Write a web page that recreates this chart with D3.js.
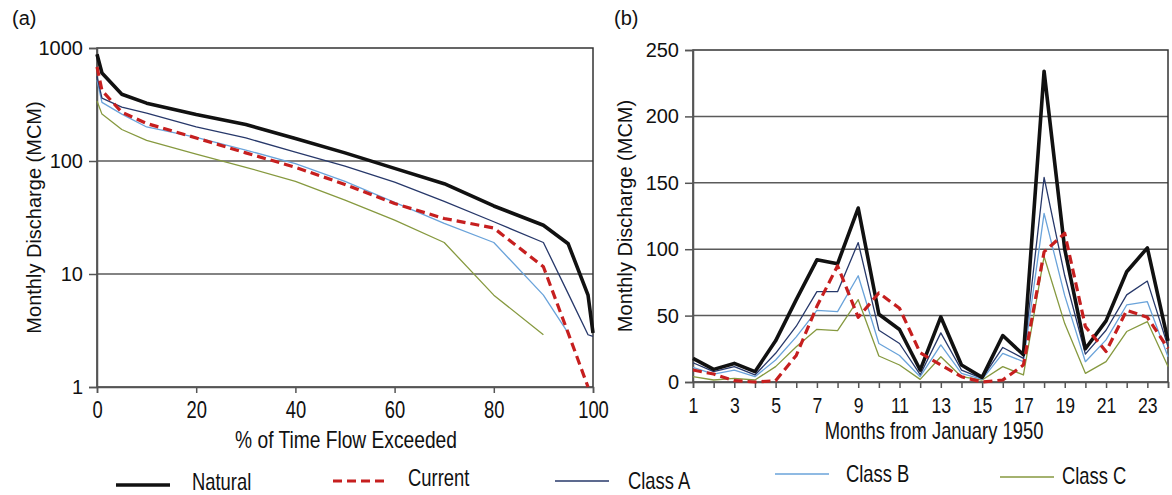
<!DOCTYPE html>
<html>
<head>
<meta charset="utf-8">
<script src="https://cdn.jsdelivr.net/npm/d3@7"></script>
<style>
  body { margin: 0; background: #fff; }
  text { font-family: "Liberation Sans", Arial, sans-serif; fill: #111; }
</style>
</head>
<body>
<div id="chart_div"></div>
<script>
  // panel (a): flow duration curves (% of time flow exceeded)
  var pctExceeded = [0, 1, 5, 10, 20, 30, 40, 50, 60, 70, 80, 90, 95, 99, 100];
  var fdcNatural = [880, 600, 390, 325, 258, 210, 158, 118, 86, 63, 40, 27, 18.5, 6.5, 3];
  var fdcCurrent = [680, 420, 270, 215, 160, 118, 88, 62, 42, 31, 25.5, 11.6, 3.0, 1.0, null];
  var fdcClassA = [560, 360, 300, 265, 200, 160, 120, 90, 65, 44, 29, 19, 6.7, 2.9, 2.8];
  var fdcClassB = [520, 330, 260, 200, 162, 125, 95, 66, 43, 28, 19, 6.5, 3.0, null, null];
  var fdcClassC = [340, 260, 190, 152, 115, 88, 66, 45, 30, 19, 6.5, 2.9, null, null, null];

  // panel (b): monthly series from January 1950
  var months = d3.range(1, 25);
  var monNatural = [17.8, 9.5, 14, 7.8, 31, 62, 92, 89, 131, 51, 39.5, 9, 49, 12.8, 3.5, 35, 20.5, 234, 100, 25, 46, 83, 101, 31];
  var monCurrent = [9, 6, 1, 0, 1, 20, 57, 87.5, 48.7, 67, 55.5, 22, 12.8, 4, 0, 1.5, 12.8, 98, 112, 41.7, 22.9, 54, 48.7, 25.4];
  var monClassA = [14.5, 7.8, 11.5, 5.3, 21.6, 42, 68, 68, 105, 39, 29, 5.5, 37, 9, 2.8, 26, 17.8, 154, 80, 21, 39, 65.6, 76, 26.6];
  var monClassB = [11, 6, 9, 4, 16.6, 34, 54, 53, 80, 29, 20, 4, 28, 6.5, 2, 21.6, 15.3, 127, 65, 15.3, 31.7, 58, 60.5, 19];
  var monClassC = [4, 1.5, 2.8, 1.5, 11.6, 26.6, 39.7, 38.7, 62, 19.6, 12.8, 2, 19, 4, 1.5, 11.6, 5.3, 94.5, 44, 6.5, 15.3, 38, 45.5, 11.6];

  var seriesNames = ["Natural", "Current", "Class A", "Class B", "Class C"];
  var yTicksA = [1, 10, 100, 1000];
  var xTicksA = [0, 20, 40, 60, 80, 100];
  var yTicksB = [0, 50, 100, 150, 200, 250];

  // line styles per series
  var styles = {
    "Natural": {color: "#111111", width: 3.6, dash: null},
    "Current": {color: "#c61f1f", width: 3.2, dash: "9,5"},
    "Class A": {color: "#27386a", width: 1.3, dash: null},
    "Class B": {color: "#6aa3da", width: 1.3, dash: null},
    "Class C": {color: "#86993f", width: 1.3, dash: null}
  };
  var drawOrder = ["Class C", "Class B", "Class A", "Natural", "Current"];

  // the horizontal texts in the original are condensed
  var squeeze = "scale(0.8,1)";

  var svg = d3.select("#chart_div")
    .append("svg")
      .attr("width", 1172)
      .attr("height", 495);

  var gridColor = "#5a5a5a";

  // ---------- panel (a) ----------
  var pa = {left: 97, right: 593, top: 48, bottom: 387};
  var xa = d3.scaleLinear().domain([0, 100]).range([pa.left, pa.right]);
  var ya = d3.scaleLog().domain([1, 1000]).range([pa.bottom, pa.top]);

  // gridlines
  svg.append("g")
    .selectAll("line")
    .data(yTicksA.slice(1, 3))
    .enter()
    .append("line")
      .attr("x1", pa.left).attr("x2", pa.right)
      .attr("y1", function(d) { return ya(d); })
      .attr("y2", function(d) { return ya(d); })
      .attr("stroke", gridColor)
      .attr("stroke-width", 1.5);

  // box
  svg.append("rect")
    .attr("x", pa.left).attr("y", pa.top)
    .attr("width", pa.right - pa.left).attr("height", pa.bottom - pa.top)
    .attr("fill", "none")
    .attr("stroke", "#333")
    .attr("stroke-width", 1.5);

  var axA_y = svg.append("g")
    .attr("transform", "translate(" + pa.left + ",0)")
    .call(d3.axisLeft(ya).tickValues(yTicksA).tickFormat(d3.format("d")).tickSize(8).tickPadding(6));
  axA_y.selectAll("text").style("font-size", "20px");

  var axA_x = svg.append("g")
    .attr("transform", "translate(0," + pa.bottom + ")")
    .call(d3.axisBottom(xa).tickValues(xTicksA).tickSize(6).tickPadding(9));
  axA_x.selectAll("text").attr("transform", squeeze).style("font-size", "23px");

  [axA_y, axA_x].forEach(function(a) {
    a.selectAll(".domain").attr("stroke", "#555").attr("stroke-width", 1.5);
    a.selectAll(".tick line").attr("stroke", "#555").attr("stroke-width", 1.5);
  });

  var fdc = {
    "Natural": fdcNatural, "Current": fdcCurrent,
    "Class A": fdcClassA, "Class B": fdcClassB, "Class C": fdcClassC
  };
  var lineA = d3.line()
    .defined(function(d) { return d.v != null; })
    .x(function(d) { return xa(d.x); })
    .y(function(d) { return ya(d.v); });

  drawOrder.forEach(function(name) {
    var pts = pctExceeded.map(function(p, i) { return {x: p, v: fdc[name][i]}; });
    var s = styles[name];
    svg.append("path")
      .datum(pts)
      .attr("d", lineA)
      .attr("fill", "none")
      .attr("stroke", s.color)
      .attr("stroke-width", s.width)
      .attr("stroke-dasharray", s.dash)
      .attr("stroke-linejoin", "round");
  });

  svg.append("text")
    .attr("x", 12).attr("y", 25)
    .style("font-size", "20px")
    .text("(a)");

  svg.append("text")
    .attr("text-anchor", "middle")
    .attr("transform", "translate(41," + ((pa.top + pa.bottom) / 2) + ") rotate(-90)")
    .style("font-size", "20px")
    .text("Monthly Discharge (MCM)");

  svg.append("text")
    .attr("text-anchor", "middle")
    .attr("transform", "translate(346,448) " + squeeze)
    .style("font-size", "24px")
    .text("% of Time Flow Exceeded");

  // ---------- panel (b) ----------
  var pb = {left: 693, right: 1168, top: 50, bottom: 382};
  var xb = d3.scaleLinear().domain([1, 24]).range([pb.left, pb.right]);
  var yb = d3.scaleLinear().domain([0, 250]).range([pb.bottom, pb.top]);

  svg.append("g")
    .selectAll("line")
    .data(yTicksB.slice(1, 5))
    .enter()
    .append("line")
      .attr("x1", pb.left).attr("x2", pb.right)
      .attr("y1", function(d) { return yb(d); })
      .attr("y2", function(d) { return yb(d); })
      .attr("stroke", gridColor)
      .attr("stroke-width", 1.5);

  svg.append("rect")
    .attr("x", pb.left).attr("y", pb.top)
    .attr("width", pb.right - pb.left).attr("height", pb.bottom - pb.top)
    .attr("fill", "none")
    .attr("stroke", "#333")
    .attr("stroke-width", 1.5);

  var axB_y = svg.append("g")
    .attr("transform", "translate(" + pb.left + ",0)")
    .call(d3.axisLeft(yb).tickValues(yTicksB).tickSize(8).tickPadding(6));
  axB_y.selectAll("text").style("font-size", "20px");

  var axB_x = svg.append("g")
    .attr("transform", "translate(0," + pb.bottom + ")")
    .call(d3.axisBottom(xb).tickValues(months).tickSize(6).tickPadding(9)
      .tickFormat(function(d) { return d % 2 === 1 ? d : ""; }));
  axB_x.selectAll("text").attr("transform", squeeze).style("font-size", "22px");

  [axB_y, axB_x].forEach(function(a) {
    a.selectAll(".domain").attr("stroke", "#555").attr("stroke-width", 1.5);
    a.selectAll(".tick line").attr("stroke", "#555").attr("stroke-width", 1.5);
  });

  var mon = {
    "Natural": monNatural, "Current": monCurrent,
    "Class A": monClassA, "Class B": monClassB, "Class C": monClassC
  };
  var lineB = d3.line()
    .x(function(d) { return xb(d.m); })
    .y(function(d) { return yb(d.v); });

  drawOrder.forEach(function(name) {
    var pts = months.map(function(m, i) { return {m: m, v: mon[name][i]}; });
    var s = styles[name];
    svg.append("path")
      .datum(pts)
      .attr("d", lineB)
      .attr("fill", "none")
      .attr("stroke", s.color)
      .attr("stroke-width", s.width)
      .attr("stroke-dasharray", s.dash)
      .attr("stroke-linejoin", "round");
  });

  svg.append("text")
    .attr("x", 614).attr("y", 25)
    .style("font-size", "20px")
    .text("(b)");

  svg.append("text")
    .attr("text-anchor", "middle")
    .attr("transform", "translate(632," + ((pb.top + pb.bottom) / 2) + ") rotate(-90)")
    .style("font-size", "20px")
    .text("Monthly Discharge (MCM)");

  svg.append("text")
    .attr("text-anchor", "middle")
    .attr("transform", "translate(934,439) " + squeeze)
    .style("font-size", "23px")
    .text("Months from January 1950");

  // ---------- legend ----------
  var legLineX = [116, 333, 555, 775, 1000];
  var legLineY = [485, 481, 481, 474, 477];
  var legTextX = [192, 408, 628, 846, 1062];
  var legTextY = [490, 486, 489, 482, 484];

  seriesNames.forEach(function(name, i) {
    var s = styles[name];
    svg.append("line")
      .attr("x1", legLineX[i]).attr("x2", legLineX[i] + 54)
      .attr("y1", legLineY[i]).attr("y2", legLineY[i])
      .attr("stroke", s.color)
      .attr("stroke-width", s.width)
      .attr("stroke-dasharray", s.dash);
    svg.append("text")
      .attr("transform", "translate(" + legTextX[i] + "," + legTextY[i] + ") " + squeeze)
      .style("font-size", "23px")
      .text(name);
  });
</script>
</body>
</html>
